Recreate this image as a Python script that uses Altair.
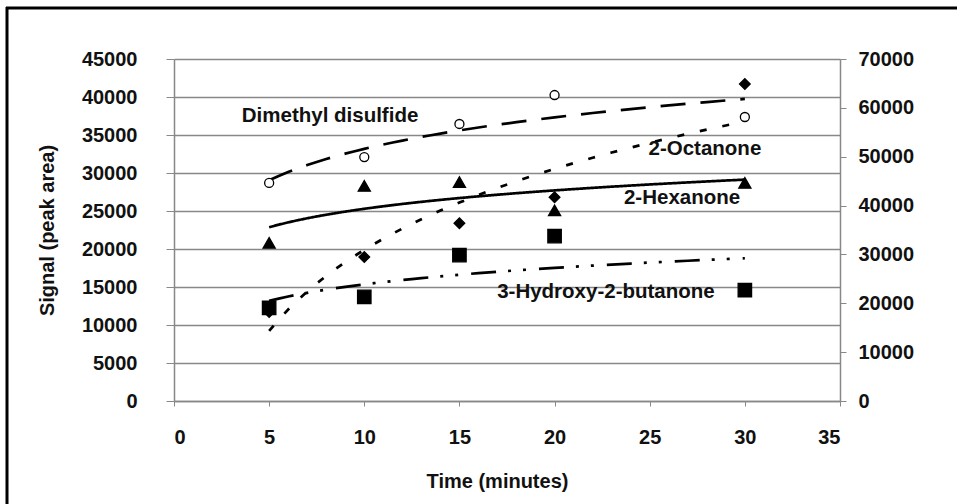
import altair as alt
import pandas as pd

# ---- data ----
time_min = [5, 10, 15, 20, 30]
dimethyl_disulfide = [28700, 32100, 36450, 40260, 37370]
octanone = [11700, 18950, 23400, 26800, 41700]
hexanone = [20800, 28300, 28800, 25100, 28700]
hydroxy_butanone = [12240, 13700, 19200, 21700, 14600]

compounds = ["Dimethyl disulfide", "2-Octanone", "2-Hexanone", "3-Hydroxy-2-butanone"]
series = [dimethyl_disulfide, octanone, hexanone, hydroxy_butanone]

left_ticks = [0, 5000, 10000, 15000, 20000, 25000, 30000, 35000, 40000, 45000]
right_ticks = [0, 10000, 20000, 30000, 40000, 50000, 60000, 70000]
x_ticks = [0, 5, 10, 15, 20, 25, 30, 35]

label_text = compounds
label_x = [8.2, 27.9, 26.7, 22.7]
label_y = [37500, 33160, 26700, 14340]

rows = []
for name, vals in zip(compounds, series):
    for t, v in zip(time_min, vals):
        rows.append({"compound": name, "time": t, "signal": v})
df = pd.DataFrame(rows)
labels = pd.DataFrame({"x": label_x, "y": label_y, "text": label_text})

FONT = "Liberation Sans"
FS = 20
GRAY = "#888888"
TXT = "#111111"

xscale = alt.Scale(domain=[0, 35], nice=False)
xaxis = alt.Axis(values=x_ticks, title="Time (minutes)", grid=False, format="d",
                 labelOverlap=False,
                 tickSize=5, tickColor=GRAY, domainColor=GRAY, domainWidth=1.5,
                 labelPadding=21, labelFontSize=FS, labelFont=FONT, labelFontWeight="bold",
                 labelColor=TXT, titleFont=FONT, titleFontSize=FS, titleFontWeight="bold",
                 titleColor=TXT, titleX=323, titleY=80, titleBaseline="middle",
                 titleAlign="center")

yscale = alt.Scale(domain=[0, 45000], nice=False)
yaxis = alt.Axis(values=left_ticks, title="Signal (peak area)", grid=True, gridColor=GRAY,
                 format="d", labelOverlap=False,
                 gridWidth=1.3, tickSize=8, tickColor=GRAY, domainColor=GRAY, domainWidth=1.5,
                 labelPadding=29, labelFontSize=FS, labelFont=FONT, labelFontWeight="bold",
                 labelColor=TXT, titleFont=FONT, titleFontSize=FS, titleFontWeight="bold",
                 titleColor=TXT, titleX=-127, titleY=171, titleAngle=-90,
                 titleBaseline="middle", titleAlign="center")

lines = alt.Chart(df).transform_regression(
    "time", "signal", groupby=["compound"], method="log", extent=[5, 30]
).mark_line(color="black", strokeWidth=2.7).encode(
    x=alt.X("time:Q", scale=xscale, axis=xaxis),
    y=alt.Y("signal:Q", scale=yscale, axis=yaxis),
    detail="compound:N",
    strokeDash=alt.StrokeDash("compound:N",
                              scale=alt.Scale(domain=compounds,
                                              range=[[25, 15], [7, 16], [1, 0], [25, 12, 3, 12, 3, 13]]),
                              legend=None),
)

points = alt.Chart(df).mark_point(filled=True, stroke="black", strokeWidth=1.3, opacity=1).encode(
    x=alt.X("time:Q", scale=xscale, axis=xaxis),
    y=alt.Y("signal:Q", scale=yscale, axis=yaxis),
    shape=alt.Shape("compound:N", scale=alt.Scale(domain=compounds,
                                                  range=["circle", "diamond", "triangle-up", "square"]),
                    legend=None),
    fill=alt.Fill("compound:N", scale=alt.Scale(domain=compounds,
                                                range=["white", "black", "black", "black"]),
                  legend=None),
    size=alt.Size("compound:N", scale=alt.Scale(domain=compounds, range=[81, 180, 160, 110]),
                  legend=None),
)

texts = alt.Chart(labels).mark_text(font=FONT, fontWeight="bold", fontSize=20.5, align="center",
                                    baseline="middle", color=TXT).encode(
    x=alt.X("x:Q", scale=xscale, axis=xaxis),
    y=alt.Y("y:Q", scale=yscale, axis=yaxis),
    text="text:N")

main = alt.layer(lines, points, texts)

right = alt.Chart(pd.DataFrame({"r": right_ticks})).mark_point(opacity=0).encode(
    y=alt.Y("r:Q", scale=alt.Scale(domain=[0, 70000], nice=False),
            axis=alt.Axis(orient="right", values=right_ticks, title=None, grid=False,
                          format="d", labelOverlap=False,
                          tickSize=6, tickColor=GRAY, domainColor=GRAY, domainWidth=1.5,
                          labelPadding=12, labelFontSize=FS, labelFont=FONT,
                          labelFontWeight="bold", labelColor=TXT)))

frame_data = pd.DataFrame({"a": [0]})
frame_top = alt.Chart(frame_data).mark_rule(color="black", strokeWidth=3).encode(
    x=alt.value(-168), x2=alt.value(800), y=alt.value(-51))
frame_left = alt.Chart(frame_data).mark_rule(color="black", strokeWidth=3).encode(
    x=alt.value(-167), y=alt.value(-52), y2=alt.value(460))

chart = alt.layer(frame_top, frame_left, main, right).resolve_scale(y="independent").properties(
    width=666, height=342,
    autosize=alt.AutoSizeParams(type="none"),
    padding={"left": 174, "top": 59, "right": 117, "bottom": 103},
    background="white",
).configure_view(stroke=None)

chart.save("out.html", embed_options={"renderer": "svg", "actions": False})
